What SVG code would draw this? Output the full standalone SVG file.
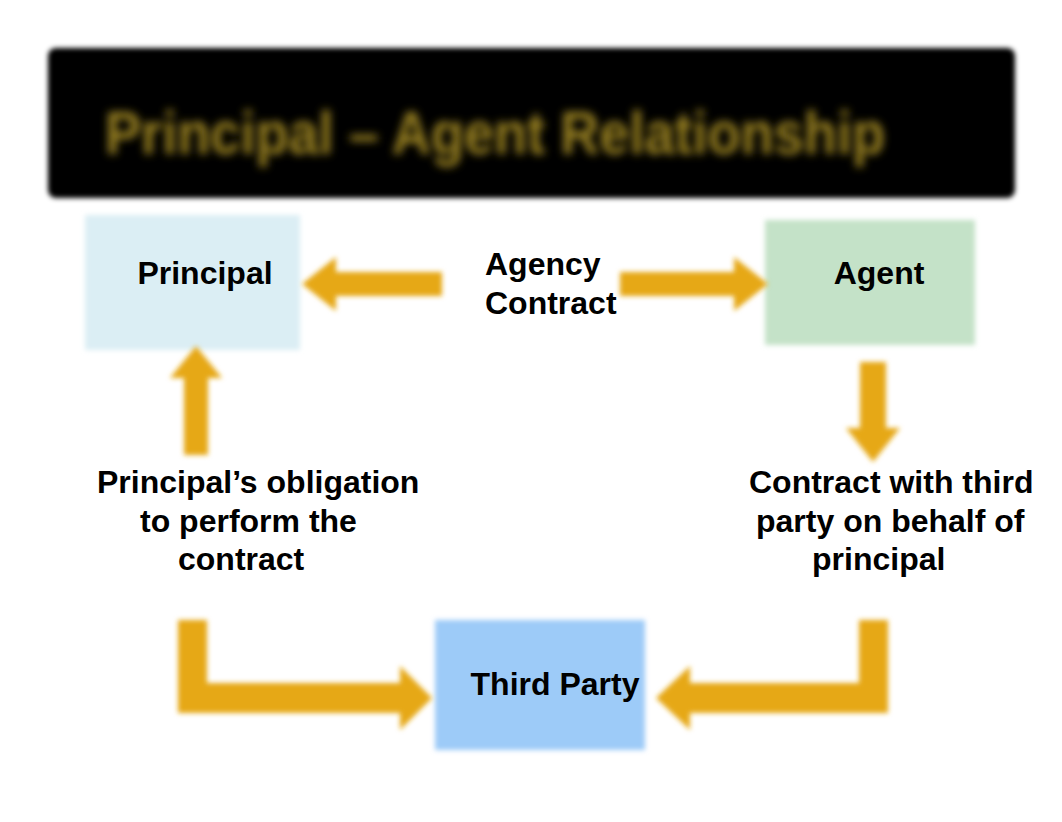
<svg xmlns="http://www.w3.org/2000/svg" width="1062" height="822" viewBox="0 0 1062 822">
<defs>
<filter id="soft" x="-10%" y="-10%" width="120%" height="120%"><feGaussianBlur stdDeviation="2.5"/></filter>
<filter id="tblur" x="-5%" y="-20%" width="110%" height="140%"><feGaussianBlur stdDeviation="4"/></filter>
<style>
.lbl{font-family:"Liberation Sans",Arial,sans-serif;font-weight:bold;font-size:32px;fill:#000}
.arr{fill:#e6a816;filter:url(#soft)}
</style>
</defs>
<rect width="1062" height="822" fill="#ffffff"/>
<g id="title">
<rect x="48" y="48" width="967" height="150" rx="8" fill="#000" filter="url(#soft)"/>
<text x="105" y="154" font-family="Liberation Sans, Arial, sans-serif" font-weight="bold" font-size="62" fill="#9a8222" textLength="780" lengthAdjust="spacingAndGlyphs" filter="url(#tblur)">Principal – Agent Relationship</text>
</g>
<g id="principal">
<rect x="85" y="215" width="215" height="135" fill="#dbeef4" filter="url(#soft)"/>
<text class="lbl" x="205" y="284" text-anchor="middle">Principal</text>
</g>
<g id="agent">
<rect x="765" y="220" width="210" height="125" fill="#c4e2c8" filter="url(#soft)"/>
<text class="lbl" x="879" y="284" text-anchor="middle">Agent</text>
</g>
<g id="third-party">
<rect x="435" y="620" width="210" height="130" fill="#9dcbf8" filter="url(#soft)"/>
<text class="lbl" x="555" y="695" text-anchor="middle">Third Party</text>
</g>
<g id="agency-contract">
<text class="lbl" x="485" y="275">Agency</text>
<text class="lbl" x="485" y="314">Contract</text>
</g>
<g id="obligation-label">
<text class="lbl" x="97" y="493">Principal’s obligation</text>
<text class="lbl" x="140" y="532">to perform the</text>
<text class="lbl" x="178" y="570">contract</text>
</g>
<g id="contract-label">
<text class="lbl" x="749" y="493">Contract with third</text>
<text class="lbl" x="756" y="532">party on behalf of</text>
<text class="lbl" x="812" y="570">principal</text>
</g>
<g id="connectors">
<polygon class="arr" points="302,284 336,257 336,272 442,272 442,296 336,296 336,311"/>
<polygon class="arr" points="768,284 734,257 734,272 620,272 620,296 734,296 734,311"/>
<polygon class="arr" points="196,346 222,378 208,378 208,455 184,455 184,378 170,378"/>
<polygon class="arr" points="873,462 900,428 886,428 886,362 860,362 860,428 846,428"/>
<polygon class="arr" points="178,620 207,620 207,683 400,683 400,666 432,698 400,730 400,713 178,713"/>
<polygon class="arr" points="888,620 859,620 859,683 690,683 690,666 656,698 690,730 690,713 888,713"/>
</g>
</svg>
